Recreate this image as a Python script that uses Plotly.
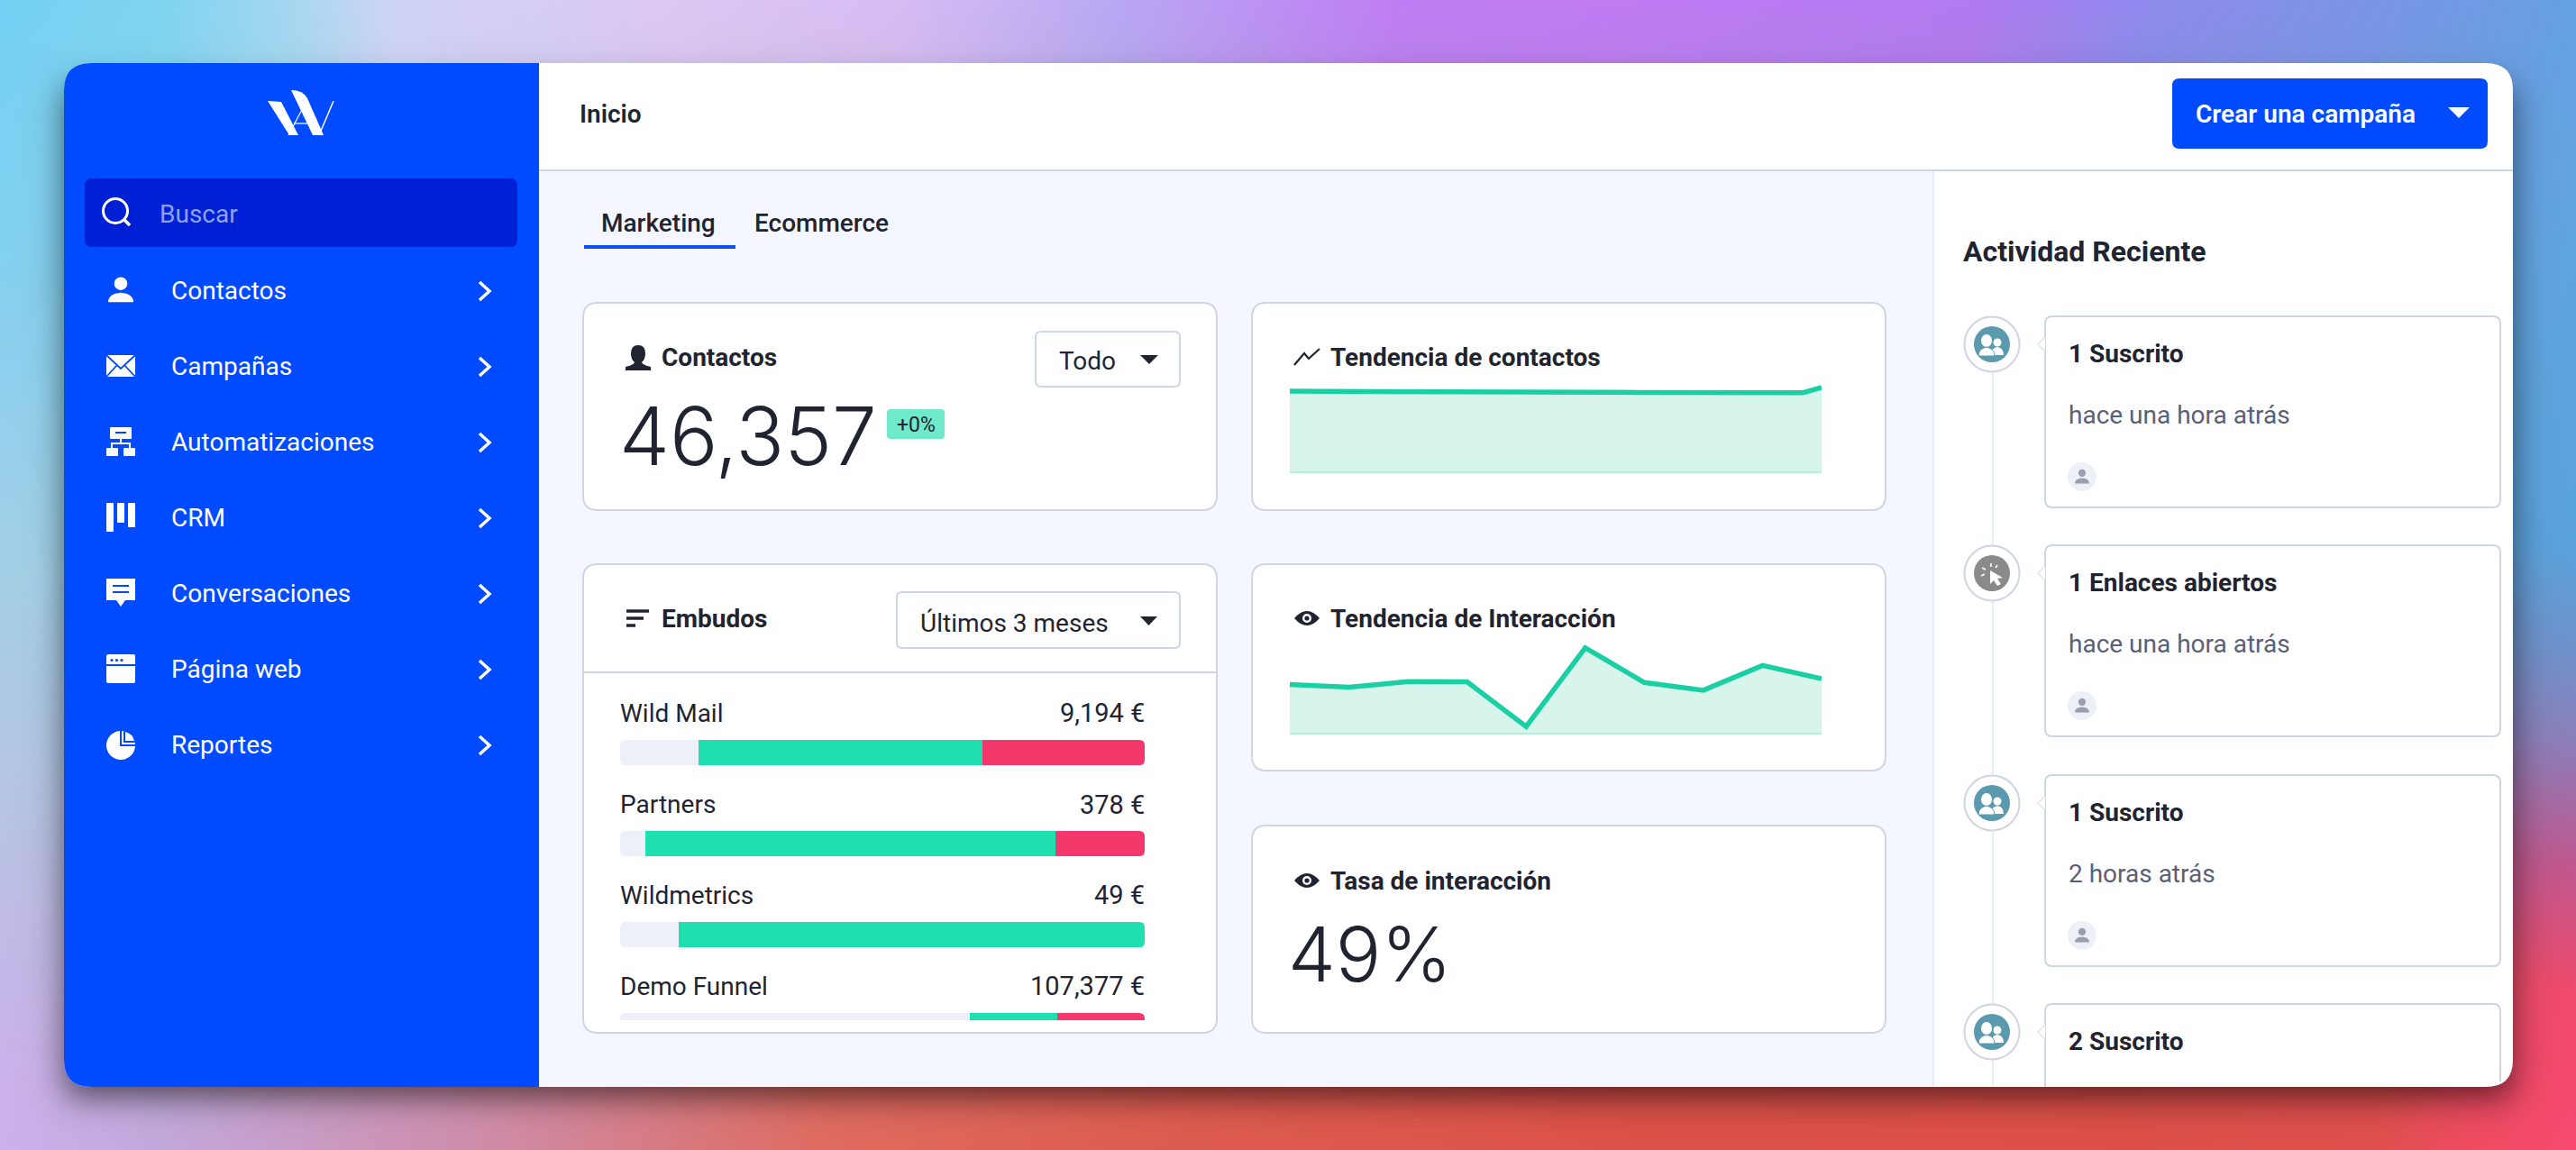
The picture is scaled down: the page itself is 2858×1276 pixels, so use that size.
import base64
import math
import struct
import zlib

import numpy as np
import plotly.graph_objects as go

W, H = 2858, 1276

# ---- data ----
menu_items = ["Contactos", "Campañas", "Automatizaciones", "CRM", "Conversaciones", "Página web", "Reportes"]

funnel_names = ["Wild Mail", "Partners", "Wildmetrics", "Demo Funnel"]
funnel_totals = ["9,194 €", "378 €", "49 €", "107,377 €"]
funnel_idle = [14.9, 4.8, 11.2, 66.7]
funnel_won = [54.1, 78.2, 88.8, 16.7]
funnel_lost = [31.0, 17.0, 0, 16.6]

contact_trend = [44270, 44270, 44250, 44250, 44270, 44270, 44260, 44260, 44000, 43800,
                 43800, 43850, 43850, 43880, 43880, 43700, 43700, 43700, 43700, 43560,
                 43560, 43500, 43400, 43300, 43250, 43250, 43400, 43450, 43450, 46357]
interaction_trend = [43.8, 41.2, 46.4, 46.1, 5.6, 77, 45.5, 38.5, 61, 49]

activity_titles = ["1 Suscrito", "1 Enlaces abiertos", "1 Suscrito", "2 Suscrito"]
activity_times = ["hace una hora atrás", "hace una hora atrás", "2 horas atrás", ""]
activity_kinds = ["group", "click", "group", "group"]

# ---- colours ----
BLUE = "#004bff"
DARK = "#1f2430"
BORDER = "#d0d5e3"
GREEN = "#19cfa3"
FONT = "Roboto"
WIN_BOTTOM = 1206


# ---- background picture: gradient taken from the edge colours, plus window shadow ----
def hex_rgb(c):
    return [int(c[i:i + 2], 16) for i in (1, 3, 5)]


def edge(stops, n, size):
    pos = [s[0] / size for s in stops]
    cols = np.array([hex_rgb(s[1]) for s in stops], dtype=float)
    t = np.linspace(0, 1, n)
    return np.stack([np.interp(t, pos, cols[:, k]) for k in range(3)], axis=1)


top_edge = [(0, "#74d2f4"), (182, "#80d4f0"), (328, "#a8d8f2"), (437, "#d0d4f5"), (729, "#dcc8f4"),
            (1000, "#d6bdf4"), (1240, "#b9a8f4"), (1550, "#c07ef4"), (1820, "#bf7bf3"),
            (2187, "#b47af0"), (2370, "#918aee"), (2640, "#7b96e6"), (2858, "#66a2e2")]
bottom_edge = [(0, "#ceb0ec"), (182, "#c4a8dc"), (547, "#d08ca8"), (911, "#e06b60"), (1276, "#df5d50"),
               (1820, "#dc5248"), (2370, "#dd5048"), (2640, "#e0504e"), (2734, "#ee4c60"), (2858, "#fa4a70")]
left_edge = [(0, "#74d2f4"), (300, "#84d0f0"), (640, "#a5d0e8"), (900, "#b8c4e4"), (1150, "#c8b4ea"), (1276, "#ceb0ec")]
right_edge = [(0, "#66a2e2"), (300, "#5fa6e0"), (600, "#5aa4de"), (720, "#6f92cc"), (820, "#8c80bc"),
              (960, "#c05890"), (1100, "#f04a6c"), (1276, "#fa4a70")]


def background_uri():
    nx, ny = W // 4, H // 4
    T = edge(top_edge, nx, W)[None, :, :]
    B = edge(bottom_edge, nx, W)[None, :, :]
    L = edge(left_edge, ny, H)[:, None, :]
    R = edge(right_edge, ny, H)[:, None, :]
    u = np.linspace(0, 1, nx)[None, :, None]
    v = np.linspace(0, 1, ny)[:, None, None]
    c00, c10 = T[0, 0], T[0, -1]
    c01, c11 = B[0, 0], B[0, -1]
    img = (1 - v) * T + v * B + (1 - u) * L + u * R - (
        (1 - u) * (1 - v) * c00 + u * (1 - v) * c10 + (1 - u) * v * c01 + u * v * c11)
    erf = np.vectorize(math.erf)
    xs = np.linspace(0, W, nx)
    ys = np.linspace(0, H, ny)
    sig = 26.0
    sx = 0.5 * (erf((xs - 71) / sig) - erf((xs - 2788) / sig))
    sy = 0.5 * (erf((ys - 95) / sig) - erf((ys - 1218) / sig))
    shadow = 0.62 * np.outer(sy, sx)[:, :, None]
    img = np.clip(img * (1 - shadow), 0, 255).astype(np.uint8)
    raw = b"".join(b"\x00" + row.tobytes() for row in img)

    def chunk(tag, data):
        return struct.pack(">I", len(data)) + tag + data + struct.pack(">I", zlib.crc32(tag + data))

    png = b"\x89PNG\r\n\x1a\n" + chunk(b"IHDR", struct.pack(">IIBBBBB", nx, ny, 8, 2, 0, 0, 0)) \
        + chunk(b"IDAT", zlib.compress(raw, 9)) + chunk(b"IEND", b"")
    return "data:image/png;base64," + base64.b64encode(png).decode()


# ---- helpers for the page furniture ----
shapes = []
notes = []


def path(d, fill=None, line=None, width=0, layer="below"):
    shapes.append(dict(type="path", path=d, xref="x", yref="y", layer=layer,
                       fillcolor=fill if fill else "rgba(0,0,0,0)",
                       line=dict(color=line if line else "rgba(0,0,0,0)", width=width)))


def rr(x0, y0, x1, y1, tl, tr=None, br=None, bl=None):
    tr = tl if tr is None else tr
    br = tl if br is None else br
    bl = tl if bl is None else bl
    return (f"M{x0 + tl},{y0} L{x1 - tr},{y0} Q{x1},{y0} {x1},{y0 + tr} L{x1},{y1 - br} Q{x1},{y1} {x1 - br},{y1} "
            f"L{x0 + bl},{y1} Q{x0},{y1} {x0},{y1 - bl} L{x0},{y0 + tl} Q{x0},{y0} {x0 + tl},{y0} Z")


def circle(cx, cy, r, fill=None, line=None, width=0, ry=None, layer="below"):
    ry = r if ry is None else ry
    shapes.append(dict(type="circle", xref="x", yref="y", layer=layer, x0=cx - r, x1=cx + r, y0=cy - ry, y1=cy + ry,
                       fillcolor=fill if fill else "rgba(0,0,0,0)",
                       line=dict(color=line if line else "rgba(0,0,0,0)", width=width)))


def label(x, y, text, size, color=DARK, weight=400, anchor="left", family=FONT):
    notes.append(dict(x=x, y=y, xref="x", yref="y", text=text, showarrow=False, xanchor=anchor, yanchor="middle",
                      font=dict(family=family, size=size, color=color, weight=weight),
                      borderpad=0, borderwidth=0))


def tri(x0, x1, y0, y1, fill):
    path(f"M{x0},{y0} L{x1},{y0} L{(x0 + x1) / 2},{y1} Z", fill=fill)


def card(x0, y0, x1, y1, r=16):
    path(rr(x0 + 1, y0 + 1, x1 - 1, y1 - 1, r), fill="white", line=BORDER, width=2)


def person(cx, cy, s, fill):
    # head and shoulders, s = half width
    circle(cx, cy - 0.52 * s, 0.52 * s, fill=fill)
    path(f"M{cx - s},{cy + s * 0.95} Q{cx - s},{cy + s * 0.28} {cx},{cy + s * 0.2} "
         f"Q{cx + s},{cy + s * 0.28} {cx + s},{cy + s * 0.95} Z", fill=fill)


def eye(cx, cy):
    path(f"M{cx - 14},{cy} Q{cx},{cy - 16} {cx + 14},{cy} Q{cx},{cy + 16} {cx - 14},{cy} Z", fill=DARK)
    circle(cx, cy, 5, fill="white")
    circle(cx, cy, 2.6, fill=DARK)


# window
path(rr(71, 70, 2788, WIN_BOTTOM, 30), fill="white")
path(rr(71, 70, 598, WIN_BOTTOM, 30, 0, 0, 30), fill=BLUE)
path(f"M598,190 L2145,190 L2145,{WIN_BOTTOM} L598,{WIN_BOTTOM} Z", fill="#f4f7ff")
path("M598,189 L2788,189", line=BORDER, width=2)
path(f"M2145,190 L2145,{WIN_BOTTOM}", line="#e8ecf6", width=2)

# sidebar logo
path("M297,112 L312,113 L331,150 L321,150 Z", fill="white")
path("M323,100 Q336,100 341,109 L359,150 L347,150 Z", fill="white")
path("M320,150 L338,116", line="white", width=1.2)
path("M354,150 L370,112", line="white", width=1.5)
path("M326,137 L341,137", line="white", width=1.2)

# search box
path(rr(94, 198, 574, 274, 8), fill="#0020d6")
circle(128, 234, 13.5, line="white", width=3)
path("M138,244 L144,250", line="white", width=3.5)
label(177, 237, "Buscar", 28, color="#8ea2f5")

# menu
menu_y = [323, 407, 491, 575, 659, 743, 827]
for name, y in zip(menu_items, menu_y):
    label(190, y - 0.5, name, 28, color="white")
    path(f"M532,{y - 10} L543,{y} L532,{y + 10}", line="white", width=3.5)

person(134, 322, 14, "white")
path(rr(118, 394, 150, 418, 1), fill="white")
path("M118,394 L134,409 L150,394 M118,418 L130,405 M150,418 L138,405", line=BLUE, width=1.8)
path(rr(122, 474, 146, 487, 1), fill="white")
path("M128,480 L140,480", line=BLUE, width=2)
path("M134,487 L134,492 M124,497 L124,492 L144,492 L144,497", line="white", width=2)
path(rr(118, 497, 131, 506, 1), fill="white")
path(rr(137, 497, 150, 506, 1), fill="white")
path(rr(118, 558, 126, 590, 1), fill="white")
path(rr(130, 558, 138, 580, 1), fill="white")
path(rr(142, 558, 150, 585, 1), fill="white")
path("M118,642 L150,642 L150,666 L139,666 L134,673 L129,666 L118,666 Z", fill="white")
path("M125,650 L143,650 M125,657 L143,657", line=BLUE, width=2)
path(rr(118, 726, 150, 758, 2), fill="white")
path("M118,738 L150,738", line=BLUE, width=2)
for dx in (124, 129.5, 135):
    circle(dx, 732.5, 1.6, fill=BLUE)
circle(134, 827, 16, fill="white")
path("M134,810 L134,827 L151,827", line=BLUE, width=2)
path("M137,811 L137,824 L150,824 Q149,813 137,811 Z", fill=BLUE)
path("M139,812 L139,822 L149,822 Q147,814 139,812 Z", fill="white")

# header
label(643, 126, "Inicio", 28, weight=600)
path(rr(2410, 87, 2760, 165, 8), fill=BLUE)
label(2436, 126, "Crear una campaña", 28, color="white", weight=600)
tri(2716, 2740, 119, 131, "white")

# tabs
label(667, 247, "Marketing", 28, weight=500)
label(837, 247, "Ecommerce", 28, weight=500)
path("M648,274 L816,274", line="#0a4ff5", width=4)

# contactos card
card(646, 335, 1351, 567)
path("M708,383 Q716,383 716,392 Q716,399 712,402 Q713,405 722,407 L722,411 L694,411 L694,407 "
     "Q703,405 704,402 Q700,399 700,392 Q700,383 708,383 Z", fill=DARK)
label(734, 396, "Contactos", 28, weight=700)
path(rr(1149, 368, 1309, 429, 6), fill="white", line=BORDER, width=2)
label(1175, 400, "Todo", 28)
tri(1265, 1285, 394, 404, DARK)
label(687, 483, "46,357", 89, weight=300, family="Inter")
path(rr(984, 454, 1048, 487, 4), fill="#6ee9c9")
label(1016, 471, "+0%", 23, anchor="center")

# trend cards
card(1388, 335, 2093, 567)
path("M1436,405 L1447,392 L1452,398 L1464,387", line=DARK, width=2.2)
label(1476, 396, "Tendencia de contactos", 28, weight=700)
card(1388, 625, 2093, 856)
eye(1450, 686)
label(1476, 686, "Tendencia de Interacción", 28, weight=700)
card(1388, 915, 2093, 1147)
eye(1450, 977)
label(1476, 977, "Tasa de interacción", 28, weight=700)
label(1429, 1058, "49%", 84, weight=300, family="Inter")

# funnel card
card(646, 625, 1351, 1147)
path("M647,746 L1351,746", line=BORDER, width=2)
path("M695,678 L720,678 M695,686 L714,686 M695,694 L705,694", line=DARK, width=3.5)
label(734, 686, "Embudos", 28, weight=700)
path(rr(995, 657, 1309, 719, 6), fill="white", line=BORDER, width=2)
label(1021, 691, "Últimos 3 meses", 28)
tri(1265, 1284, 684, 694, DARK)
funnel_label_y = [791, 892.5, 993, 1094]
for name, total, y in zip(funnel_names, funnel_totals, funnel_label_y):
    label(688, y, name, 28)
    label(1270, y, total, 29, anchor="right")
# round the bar ends by masking their corners
for i, top in enumerate([821, 922, 1023, 1124]):
    bottom = top + 28
    r = 6
    path(f"M688,{top} L{688 + r},{top} Q688,{top} 688,{top + r} Z", fill="white", layer="above")
    path(f"M1270,{top} L{1270 - r},{top} Q1270,{top} 1270,{top + r} Z", fill="white", layer="above")
    if i < 3:
        path(f"M688,{bottom} L{688 + r},{bottom} Q688,{bottom} 688,{bottom - r} Z", fill="white", layer="above")
        path(f"M1270,{bottom} L{1270 - r},{bottom} Q1270,{bottom} 1270,{bottom - r} Z", fill="white", layer="above")

# activity timeline
label(2178, 279, "Actividad Reciente", 32, weight=700)
path(f"M2211,382 L2211,{WIN_BOTTOM}", line="#e8ecf6", width=2)
card_tops = [350, 604, 859, 1113]
for top, title, when, kind in zip(card_tops, activity_titles, activity_times, activity_kinds):
    cy = top + 32
    if top + 213 < WIN_BOTTOM:
        path(rr(2269, top + 1, 2774, top + 213, 8), fill="white", line=BORDER, width=2)
    else:
        path(f"M2269,{WIN_BOTTOM} L2269,{top + 9} Q2269,{top + 1} 2277,{top + 1} L2766,{top + 1} Q2774,{top + 1} 2774,{top + 9} L2774,{WIN_BOTTOM - 6}",
             fill="white", line=BORDER, width=2)
    path(f"M2269,{cy - 8} L2261,{cy} L2269,{cy + 8}", fill="white", line="#e3e6ef", width=1.5)
    circle(2210, cy, 30.5, fill="white", line=BORDER, width=2)
    if kind == "group":
        circle(2210, cy, 20, fill="#5b9aae")
        circle(2216, cy - 2, 4.5, fill="white")
        path(f"M2209,{cy + 12} Q2209,{cy + 4} 2216,{cy + 3} Q2223,{cy + 4} 2223,{cy + 12} Z", fill="white")
        circle(2204, cy - 4, 6, ry=7, fill="white")
        path(f"M2195,{cy + 13} Q2195,{cy + 5} 2204,{cy + 3} Q2213,{cy + 5} 2213,{cy + 13} Z",
             fill="white", line="#5b9aae", width=1)
    else:
        circle(2210, cy, 20, fill="#8a8a8a")
        path(f"M2208,{cy - 3} L2222,{cy + 5} L2216,{cy + 6} L2220,{cy + 12} L2216,{cy + 14} L2212,{cy + 8} L2208,{cy + 12} Z", fill="white")
        path(f"M2199,{cy - 6} L2203,{cy - 4} M2209,{cy - 11} L2209,{cy - 7} M2216,{cy - 9} L2214,{cy - 6} "
             f"M2198,{cy + 3} L2202,{cy + 1}", line="white", width=1.6)
    label(2295, top + 42, title, 28, weight=700)
    if when:
        label(2295, top + 110, when, 28, color="#5a6078")
        circle(2310, top + 179, 16, fill="#eef0f7")
        person(2310, top + 179, 8, "#9a9eae")


def px_dom(a, b, size):
    return [a / size, b / size]


def py_dom(top, bottom):
    return [1 - bottom / H, 1 - top / H]


fig = go.Figure()
# empty trace so the page axes exist
fig.add_trace(go.Scatter(x=[], y=[], hoverinfo="skip", showlegend=False))

# sparklines
fig.add_trace(go.Scatter(x=list(range(len(contact_trend))), y=contact_trend, mode="lines", fill="tozeroy",
                         fillcolor="#d8f5ec", line=dict(color=GREEN, width=5.5), xaxis="x2", yaxis="y2", showlegend=False))
fig.add_trace(go.Scatter(x=list(range(len(interaction_trend))), y=interaction_trend, mode="lines", fill="tozeroy",
                         fillcolor="#d8f5ec", line=dict(color=GREEN, width=5.5), xaxis="x3", yaxis="y3", showlegend=False))

# funnel bars
for vals, col in zip([funnel_idle, funnel_won, funnel_lost], ["#edf0f8", "#1ddfb0", "#f5386b"]):
    fig.add_trace(go.Bar(x=vals, y=funnel_names, orientation="h", marker=dict(color=col, line=dict(width=0)),
                         xaxis="x4", yaxis="y4", showlegend=False))

hidden = dict(showgrid=False, zeroline=False, showticklabels=False, ticks="", fixedrange=True)
fig.update_layout(
    width=W,
    height=H,
    margin=dict(l=0, r=0, t=0, b=0),
    paper_bgcolor="white",
    plot_bgcolor="rgba(0,0,0,0)",
    font=dict(family=FONT),
    barmode="stack",
    bargap=0.723,
    hovermode=False,
    xaxis=dict(domain=[0, 1], range=[0, W], visible=False, fixedrange=True),
    yaxis=dict(domain=[0, 1], range=[H, 0], visible=False, fixedrange=True),
    xaxis2=dict(domain=px_dom(1431, 2021, W), range=[0, len(contact_trend) - 1], anchor="y2",
                showline=True, linecolor="#b5f0de", linewidth=2, **hidden),
    yaxis2=dict(domain=py_dom(423, 523), range=[0, 49800], anchor="x2", showline=False, **hidden),
    xaxis3=dict(domain=px_dom(1431, 2021, W), range=[0, len(interaction_trend) - 1], anchor="y3",
                showline=True, linecolor="#b5f0de", linewidth=2, **hidden),
    yaxis3=dict(domain=py_dom(713, 813), range=[0, 81.7], anchor="x3", showline=False, **hidden),
    xaxis4=dict(domain=px_dom(688, 1270, W), range=[0, 100], anchor="y4", showline=False, **hidden),
    yaxis4=dict(domain=py_dom(810, 1132), type="category", categoryorder="array", categoryarray=funnel_names,
                range=[2.94, -0.2475], anchor="x4", showline=False, **hidden),
    shapes=shapes,
    annotations=notes,
    images=[dict(source=background_uri(), xref="paper", yref="paper", x=0, y=1, sizex=1, sizey=1,
                 xanchor="left", yanchor="top", sizing="stretch", layer="below")],
)

fig.write_html("out.html", config={"displayModeBar": False},
               post_script="document.body.style.margin='0';document.body.style.overflow='hidden';")
